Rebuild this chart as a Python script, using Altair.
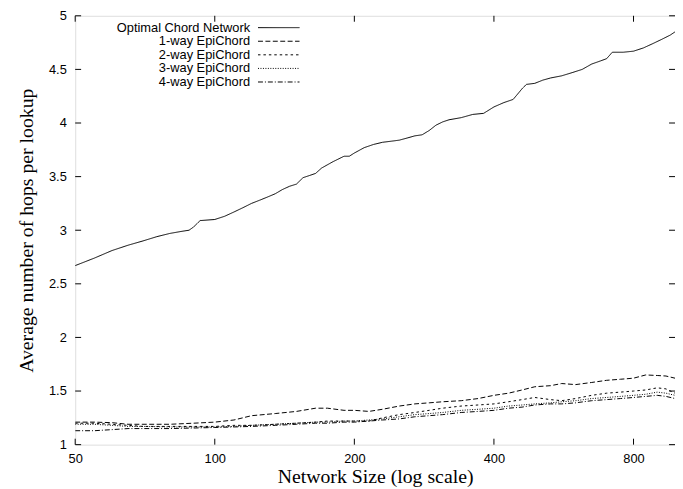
import altair as alt
import pandas as pd

series_names = ["Optimal Chord Network", "1-way EpiChord", "2-way EpiChord",
                "3-way EpiChord", "4-way EpiChord"]

opt_n = [50, 55, 60, 65, 70, 75, 80, 85, 88, 90, 93, 100, 105, 110, 115, 120, 125, 130,
         135, 140, 145, 150, 155, 160, 165, 170, 180, 190, 195, 200, 210, 220, 230, 240,
         250, 260, 270, 280, 290, 300, 310, 320, 340, 360, 380, 400, 420, 440, 450, 460,
         470, 490, 510, 530, 560, 590, 620, 650, 680, 700, 720, 760, 800, 840, 880, 920,
         960, 983]
opt_v = [2.67, 2.74, 2.81, 2.86, 2.90, 2.94, 2.97, 2.99, 3.00, 3.03, 3.09, 3.10, 3.13,
         3.17, 3.21, 3.25, 3.28, 3.31, 3.34, 3.38, 3.41, 3.43, 3.49, 3.51, 3.53, 3.58,
         3.64, 3.69, 3.69, 3.72, 3.77, 3.80, 3.82, 3.83, 3.84, 3.86, 3.88, 3.89, 3.93,
         3.98, 4.01, 4.03, 4.05, 4.08, 4.09, 4.15, 4.19, 4.22, 4.27, 4.32, 4.36, 4.37,
         4.40, 4.42, 4.44, 4.47, 4.50, 4.55, 4.58, 4.60, 4.66, 4.66, 4.67, 4.70, 4.74,
         4.78, 4.82, 4.85]

low_n = [50, 55, 60, 65, 70, 80, 90, 100, 110, 120, 135, 150, 165, 175, 190, 200, 215,
         230, 250, 270, 290, 310, 340, 370, 400, 430, 460, 490, 530, 560, 600, 650, 700,
         750, 800, 850, 900, 940, 983]
way1_v = [1.21, 1.21, 1.205, 1.19, 1.19, 1.19, 1.20, 1.21, 1.23, 1.27, 1.29, 1.31, 1.34,
          1.34, 1.32, 1.32, 1.31, 1.33, 1.36, 1.38, 1.39, 1.40, 1.41, 1.43, 1.46, 1.48,
          1.51, 1.54, 1.55, 1.57, 1.56, 1.58, 1.60, 1.61, 1.62, 1.65, 1.645, 1.64, 1.62]
way2_v = [1.20, 1.20, 1.19, 1.18, 1.17, 1.17, 1.17, 1.17, 1.18, 1.18, 1.19, 1.20, 1.21,
          1.22, 1.22, 1.22, 1.22, 1.25, 1.28, 1.30, 1.32, 1.34, 1.36, 1.37, 1.38, 1.40,
          1.42, 1.44, 1.42, 1.41, 1.43, 1.46, 1.48, 1.49, 1.50, 1.51, 1.53, 1.52, 1.48]
way3_v = [1.19, 1.19, 1.18, 1.17, 1.17, 1.165, 1.165, 1.165, 1.17, 1.18, 1.19, 1.20,
          1.21, 1.21, 1.22, 1.22, 1.23, 1.24, 1.26, 1.28, 1.29, 1.30, 1.32, 1.33, 1.34,
          1.36, 1.37, 1.38, 1.39, 1.40, 1.41, 1.43, 1.44, 1.45, 1.46, 1.47, 1.49, 1.48,
          1.46]
way4_v = [1.13, 1.13, 1.14, 1.15, 1.15, 1.15, 1.155, 1.16, 1.165, 1.17, 1.18, 1.19, 1.20,
          1.20, 1.21, 1.21, 1.22, 1.23, 1.24, 1.26, 1.27, 1.28, 1.30, 1.31, 1.32, 1.34,
          1.35, 1.37, 1.38, 1.38, 1.39, 1.41, 1.42, 1.43, 1.44, 1.45, 1.46, 1.45, 1.43]

x_ticks = [50, 100, 200, 400, 800]
y_ticks = [1, 1.5, 2, 2.5, 3, 3.5, 4, 4.5, 5]

dashes = [[1, 0], [5, 2.5], [2.5, 3], [1, 1.5], [5, 2, 1, 2]]

rows = []
for n, v in zip(opt_n, opt_v):
    rows.append({"n": n, "v": v, "s": series_names[0]})
for name, vals in zip(series_names[1:], [way1_v, way2_v, way3_v, way4_v]):
    for n, v in zip(low_n, vals):
        rows.append({"n": n, "v": v, "s": name})
df = pd.DataFrame(rows)

W, H = 607, 434
xscale = alt.Scale(type="log", domain=[50, 983], nice=False)
yscale = alt.Scale(domain=[1, 5], nice=False)
sans = "Liberation Sans"
serif = "Liberation Serif"

lines = alt.Chart(df).mark_line(color="black", strokeWidth=1, clip=True).encode(
    x=alt.X("n:Q", scale=xscale,
            axis=alt.Axis(values=x_ticks, tickSize=0, domain=False, grid=False,
                          labelFont=sans, labelFontSize=13, labelColor="black",
                          labelPadding=8, labelFlush=False,
                          title="Network Size (log scale)", titleFont=serif,
                          titleFontSize=20, titleFontWeight="normal", titleColor="black",
                          titleY=38, titleBaseline="alphabetic")),
    y=alt.Y("v:Q", scale=yscale,
            axis=alt.Axis(values=y_ticks, format="~g", tickSize=0, domain=False,
                          grid=False, labelFont=sans, labelFontSize=13,
                          labelColor="black", labelPadding=9, labelFlush=False,
                          title="Average number of hops per lookup", titleFont=serif,
                          titleFontSize=20, titleFontWeight="normal", titleColor="black",
                          titleX=-43, titleY=H / 2, titleAngle=270, titleAlign="center",
                          titleBaseline="alphabetic")),
    strokeDash=alt.StrokeDash("s:N", scale=alt.Scale(domain=series_names, range=dashes),
                              legend=None),
    detail="s:N",
    order="n:Q",
)

xt = pd.DataFrame({"t": x_ticks})
yt = pd.DataFrame({"t": y_ticks})
tk = 6
xb = alt.Chart(xt).mark_rule(color="black", strokeWidth=1).encode(
    x=alt.X("t:Q", scale=xscale), y=alt.value(H), y2=alt.value(H - tk))
xtop = alt.Chart(xt).mark_rule(color="black", strokeWidth=1).encode(
    x=alt.X("t:Q", scale=xscale), y=alt.value(0), y2=alt.value(tk))
yl = alt.Chart(yt).mark_rule(color="black", strokeWidth=1).encode(
    y=alt.Y("t:Q", scale=yscale), x=alt.value(0), x2=alt.value(tk))
yr = alt.Chart(yt).mark_rule(color="black", strokeWidth=1).encode(
    y=alt.Y("t:Q", scale=yscale), x=alt.value(W - tk), x2=alt.value(W))

layers = [lines, xb, xtop, yl, yr]
leg_df = pd.DataFrame({"s": series_names})
for i, name in enumerate(series_names):
    yy = 12 + i * 13.75
    sub = leg_df[leg_df["s"] == name]
    layers.append(alt.Chart(sub).mark_text(align="right", baseline="middle", font=sans,
                                           fontSize=13, color="black").encode(
        text="s:N", x=alt.value(177), y=alt.value(yy)))
    layers.append(alt.Chart(sub).mark_rule(color="black", strokeWidth=1,
                                           strokeDash=dashes[i]).encode(
        x=alt.value(185), x2=alt.value(227), y=alt.value(yy)))

chart = alt.layer(*layers).properties(
    width=W, height=H,
    autosize=alt.AutoSizeParams(type="none"),
    padding={"left": 68, "top": 5, "right": 0, "bottom": 42},
).configure_view(stroke="black", strokeWidth=1).configure(background="white")

chart.save("out.html", embed_options={"renderer": "svg", "actions": False})
